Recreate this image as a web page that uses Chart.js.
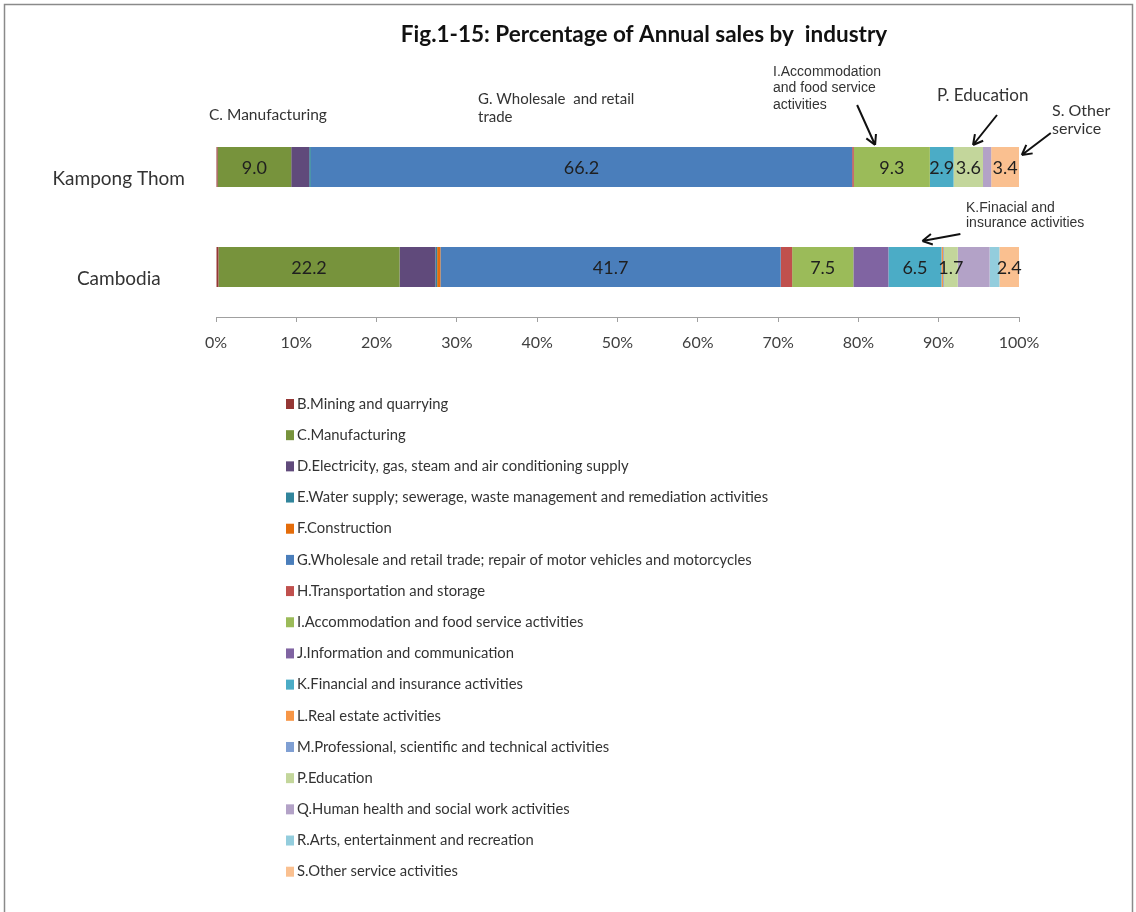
<!DOCTYPE html>
<html>
<head>
<meta charset="utf-8">
<title>Fig.1-15</title>
<script src="https://cdn.jsdelivr.net/npm/chart.js@4.4.1/dist/chart.umd.min.js"></script>
<style>
  html, body { margin: 0; padding: 0; background: #fff; }
  #wrap { width: 1136px; height: 912px; }
</style>
</head>
<body>
<div id="wrap"><canvas id="salesChart" width="1136" height="912"></canvas></div>
<script>
const chartTitle = "Fig.1-15: Percentage of Annual sales by  industry";
const regions = ["Kampong Thom", "Cambodia"];

const industries = [
  "B.Mining and quarrying",
  "C.Manufacturing",
  "D.Electricity, gas, steam and air conditioning supply",
  "E.Water supply; sewerage, waste management and remediation activities",
  "F.Construction",
  "G.Wholesale and retail trade; repair of motor vehicles and motorcycles",
  "H.Transportation and storage",
  "I.Accommodation and food service activities",
  "J.Information and communication",
  "K.Financial and insurance activities",
  "L.Real estate activities",
  "M.Professional, scientific and technical activities",
  "P.Education",
  "Q.Human health and social work activities",
  "R.Arts, entertainment and recreation",
  "S.Other service activities"
];

// annual sales share (%), same order as industries
const kampongThom = [0.2, 9.0, 2.2, 0.2, 0, 66.2, 0.2, 9.3, 0, 2.9, 0, 0, 3.6, 1.0, 0, 3.4];
const cambodia    = [0.3, 22.2, 4.4, 0.2, 0.4, 41.7, 1.4, 7.5, 4.3, 6.5, 0.2, 0.1, 1.7, 3.9, 1.2, 2.4];

const colors = [
  "#953735", "#77933C", "#604A7B", "#31859C", "#E46C0A", "#4A7EBB", "#C0504D", "#9BBB59",
  "#8064A2", "#4BACC6", "#F79646", "#7F9FD3", "#C3D69B", "#B3A2C7", "#93CDDD", "#FAC090"
];

// series whose value is printed inside the bar
const labelled = ["C", "G", "I", "K", "P", "S"];

const FONT = "Lato, 'Open Sans', sans-serif";
const ARIAL = "'Liberation Sans', Arial, sans-serif";

// callout texts above the bars
const notes = [
  { lines: ["C. Manufacturing"], x: 209, y: 115, font: "15.5px " + FONT },
  { lines: ["G. Wholesale  and retail", "trade"], x: 478, y: 99, font: "15px " + FONT },
  { lines: ["I.Accommodation", "and food service", "activities"], x: 773, y: 72, font: "14px " + ARIAL, lh: 16.5 },
  { lines: ["P. Education"], x: 937, y: 96, font: "17px " + FONT },
  { lines: ["S. Other", "service"], x: 1052, y: 111, font: "16px " + FONT },
  { lines: ["K.Finacial and", "insurance activities"], x: 966, y: 208, font: "14px " + ARIAL, lh: 15.5 }
];

// arrows: tip sits on a bar segment, tail is offset from the tip
const arrows = [
  { series: 7, region: 0, at: 0.28, tipDy: -2, dx: -18, dy: -40 },
  { series: 12, region: 0, at: 0.66, tipDy: -2, dx: 24, dy: -30 },
  { series: 15, region: 0, at: 1.1, tipDy: 8, dx: 29, dy: -22 },
  { series: 9, region: 1, at: 0.64, tipDy: -6, dx: 38, dy: -7 }
];

const rows = [kampongThom, cambodia];
const totals = rows.map(r => r.reduce((a, b) => a + b, 0));

// 100% stacked: bar length is the share of the row total
const datasets = industries.map((name, i) => ({
  label: name,
  data: rows.map((r, j) => r[i] / totals[j] * 100),
  raw: rows.map(r => r[i]),
  backgroundColor: colors[i],
  borderWidth: 0
}));

const extras = {
  id: "extras",
  beforeDraw(chart) {
    const ctx = chart.ctx;
    ctx.save();
    ctx.fillStyle = "#fff";
    ctx.fillRect(0, 0, chart.width, chart.height);
    ctx.restore();
  },
  afterDatasetsDraw(chart) {
    const ctx = chart.ctx;
    ctx.save();
    ctx.font = "18px " + FONT;
    ctx.fillStyle = "#1f1f1f";
    ctx.textAlign = "center";
    ctx.textBaseline = "middle";
    chart.data.datasets.forEach((ds, i) => {
      if (!labelled.includes(ds.label[0])) return;
      chart.getDatasetMeta(i).data.forEach((bar, j) => {
        const p = bar.getProps(["x", "y", "base"], true);
        ctx.fillText(ds.raw[j].toFixed(1), (p.x + p.base) / 2, p.y + 1);
      });
    });
    ctx.restore();
  },
  afterDraw(chart) {
    const ctx = chart.ctx;
    ctx.save();

    // frame
    ctx.strokeStyle = "#8a8a8a";
    ctx.lineWidth = 1.5;
    ctx.strokeRect(4.5, 4.5, chart.width - 8, chart.height + 20);

    // title
    ctx.fillStyle = "#111";
    ctx.font = "bold 22.5px " + FONT;
    ctx.textAlign = "center";
    ctx.textBaseline = "middle";
    ctx.fillText(chartTitle, 644, 35);

    // callouts
    ctx.textAlign = "left";
    ctx.fillStyle = "#333";
    notes.forEach(n => {
      ctx.font = n.font;
      n.lines.forEach((t, k) => ctx.fillText(t, n.x, n.y + k * (n.lh || 18)));
    });

    ctx.strokeStyle = "#111";
    ctx.lineWidth = 2;
    arrows.forEach(a => {
      const bar = chart.getDatasetMeta(a.series).data[a.region];
      const p = bar.getProps(["x", "y", "base", "height"], true);
      const tx = p.base + (p.x - p.base) * a.at;
      const ty = p.y - p.height / 2 + a.tipDy;
      const sx = tx + a.dx, sy = ty + a.dy;
      const ang = Math.atan2(ty - sy, tx - sx);
      ctx.beginPath();
      ctx.moveTo(sx, sy);
      ctx.lineTo(tx, ty);
      [0.5, -0.5].forEach(d => {
        ctx.moveTo(tx, ty);
        ctx.lineTo(tx - 11 * Math.cos(ang + d), ty - 11 * Math.sin(ang + d));
      });
      ctx.stroke();
    });

    // legend, one item per row
    ctx.font = "14.8px " + FONT;
    chart.data.datasets.forEach((ds, i) => {
      const y = 404 + i * 31.18;
      ctx.fillStyle = ds.backgroundColor;
      ctx.fillRect(286, y - 5, 8, 10);
      ctx.fillStyle = "#333";
      ctx.fillText(ds.label, 297, y);
    });
    ctx.restore();
  }
};

new Chart(document.getElementById("salesChart"), {
  type: "bar",
  data: { labels: regions, datasets },
  options: {
    indexAxis: "y",
    responsive: false,
    animation: false,
    layout: { padding: { top: 117, right: 117, bottom: 555, left: 0 } },
    datasets: { bar: { barPercentage: 0.4, categoryPercentage: 1 } },
    plugins: {
      legend: { display: false },
      title: { display: false },
      tooltip: { enabled: false }
    },
    scales: {
      x: {
        stacked: true,
        min: 0,
        max: 100,
        afterFit(scale) { scale.height = 40; },
        border: { display: true, color: "#a0a0a0" },
        grid: { drawOnChartArea: false, drawTicks: true, tickLength: 5, color: "#a0a0a0" },
        ticks: {
          stepSize: 10,
          padding: 11,
          color: "#404040",
          font: { family: FONT, size: 16 },
          callback: v => v + "%"
        }
      },
      y: {
        stacked: true,
        afterFit(scale) { scale.width = 216; },
        border: { display: false },
        grid: { display: false, drawTicks: false },
        ticks: {
          color: "#333",
          font: { family: FONT, size: 19 },
          crossAlign: "center",
          padding: 31,
          labelOffset: 12
        }
      }
    }
  },
  plugins: [extras]
});
</script>
</body>
</html>
